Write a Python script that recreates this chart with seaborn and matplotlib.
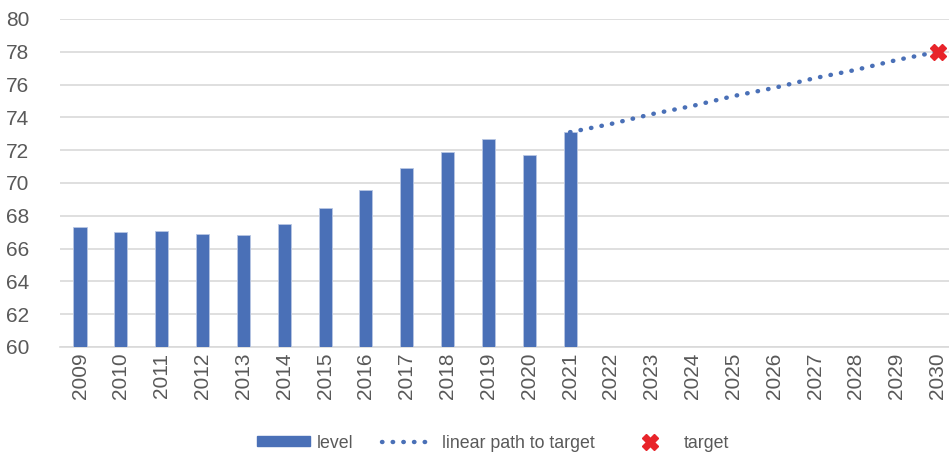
import numpy as np
import pandas as pd
import matplotlib
matplotlib.use("Agg")
import matplotlib.pyplot as plt
import seaborn as sns
from matplotlib.patches import Patch
from matplotlib.lines import Line2D
from matplotlib.ticker import FixedLocator

years = [str(y) for y in range(2009, 2031)]
level_years = [str(y) for y in range(2009, 2022)]
level = [67.3, 67.0, 67.1, 66.9, 66.8, 67.5, 68.5, 69.6, 70.9, 71.9, 72.7, 71.7, 73.1]
path_years = [str(y) for y in range(2021, 2031)]
path = [73.1, 73.6, 74.2, 74.7, 75.3, 75.8, 76.4, 76.9, 77.5, 78.0]
target_year = "2030"
target = 78.0

BLUE = "#4a70b7"
GRAY = "#595959"
GRID = "#d9d9d9"

sns.set_theme(style="white")
plt.rcParams["font.family"] = ["Liberation Sans", "DejaVu Sans"]

fig = plt.figure(figsize=(9.49, 4.55), dpi=100)
L, R = 59.6, 958.0
ax = fig.add_axes([L/949, 1 - 347/455, (R-L)/949, (347-19)/455])

df = pd.DataFrame({"year": years})
df["level"] = df["year"].map(dict(zip(level_years, level)))
sns.barplot(data=df, x="year", y="level", order=years, color=BLUE,
            width=0.32, ax=ax, saturation=1, zorder=3)
for p in ax.patches:
    p.set_edgecolor("#b8c6e3")
    p.set_linewidth(0.6)

DOT = (0, (0.1, 2.3))
pos = {y: i for i, y in enumerate(years)}
px = [pos[y] for y in path_years]
ax.plot(px, path, linestyle=DOT, dash_capstyle="round",
        color=BLUE, linewidth=3.2, zorder=4)
ax.plot([pos[target_year]], [target], marker="X", markersize=11,
        color="#e8242a", linestyle="none", zorder=5, clip_on=False)

ax.set_ylim(60, 80)
ax.set_xlim(-0.5, len(years) - 0.5)
ax.set_yticks(np.arange(60, 81, 2))
ax.yaxis.grid(True, color=GRID, linewidth=1.2, zorder=0)
ax.set_axisbelow(True)
ax.set_xlabel("")
ax.set_ylabel("")
for s in ["top", "right", "left"]:
    ax.spines[s].set_visible(False)
ax.spines["bottom"].set_color(GRID)
ax.spines["bottom"].set_linewidth(1.2)

ax.tick_params(axis="y", length=0, labelsize=15, labelcolor=GRAY, pad=22)
ax.tick_params(axis="x", which="major", length=0, labelsize=15,
               labelcolor=GRAY, labelrotation=90, pad=4)
ax.xaxis.set_minor_locator(FixedLocator(np.arange(-0.5, len(years), 1.0)))
ax.tick_params(axis="x", which="minor", length=12, color=GRID, width=1.2)

handles = [
    Patch(facecolor=BLUE, edgecolor=BLUE),
    Line2D([0], [0], linestyle=DOT, dash_capstyle="round",
           color=BLUE, linewidth=3.2),
    Line2D([0], [0], marker="X", markersize=11, color="#e8242a", linestyle="none"),
]
leg = fig.legend(handles, ["level", "linear path to target", "target"],
                 loc="center", bbox_to_anchor=(493/949, 1 - 443/455), ncol=3,
                 frameon=False, fontsize=12.8, handlelength=3.0, handleheight=0.5,
                 columnspacing=1.6, handletextpad=0.4)
for t in leg.get_texts():
    t.set_color(GRAY)

fig.savefig("out.png", dpi=100)
